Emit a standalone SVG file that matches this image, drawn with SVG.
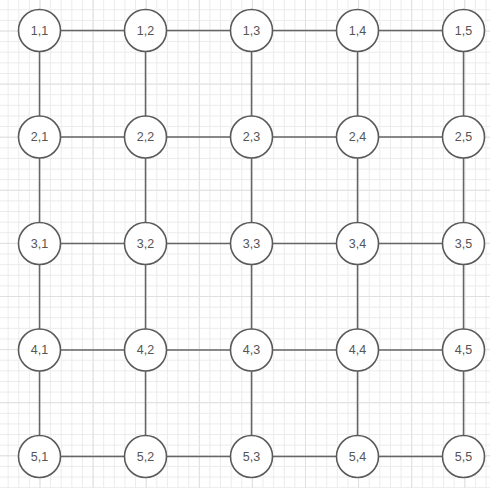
<svg xmlns="http://www.w3.org/2000/svg" width="490" height="488" viewBox="0 0 490 488">
<style>
.node circle{fill:#fff;stroke:#5a5a5a;stroke-width:1.6}
.node text{font-family:"Liberation Sans",Arial,sans-serif;font-size:12.5px;fill:#555;text-anchor:middle;dominant-baseline:central}
#edges line{stroke:#666;stroke-width:1.5}
</style>
<defs>
<pattern id="minor" patternUnits="userSpaceOnUse" x="39.5" y="30.5" width="10.62" height="10.62">
<path d="M0.5 0V10.62M0 0.5H10.62" stroke="#ebebeb" stroke-width="1" fill="none"/>
</pattern>
<pattern id="major" patternUnits="userSpaceOnUse" x="39.5" y="30.5" width="53.1" height="53.1">
<path d="M0.5 0V53.1M0 0.5H53.1" stroke="#e0e0e0" stroke-width="1" fill="none"/>
</pattern>
</defs>
<rect width="490" height="488" fill="#fff"/>
<rect width="490" height="488" fill="url(#minor)"/>
<rect width="490" height="488" fill="url(#major)"/>
<g id="edges">
<line x1="39.5" y1="30.5" x2="463.5" y2="30.5"/>
<line x1="39.5" y1="137" x2="463.5" y2="137"/>
<line x1="39.5" y1="243.5" x2="463.5" y2="243.5"/>
<line x1="39.5" y1="350" x2="463.5" y2="350"/>
<line x1="39.5" y1="456.5" x2="463.5" y2="456.5"/>
<line x1="39.5" y1="30.5" x2="39.5" y2="456.5"/>
<line x1="145.5" y1="30.5" x2="145.5" y2="456.5"/>
<line x1="251.5" y1="30.5" x2="251.5" y2="456.5"/>
<line x1="357.5" y1="30.5" x2="357.5" y2="456.5"/>
<line x1="463.5" y1="30.5" x2="463.5" y2="456.5"/>
</g>
<g id="n11" class="node"><circle cx="39.5" cy="30.5" r="21"/><text x="39.5" y="30.5">1,1</text></g>
<g id="n12" class="node"><circle cx="145.5" cy="30.5" r="21"/><text x="145.5" y="30.5">1,2</text></g>
<g id="n13" class="node"><circle cx="251.5" cy="30.5" r="21"/><text x="251.5" y="30.5">1,3</text></g>
<g id="n14" class="node"><circle cx="357.5" cy="30.5" r="21"/><text x="357.5" y="30.5">1,4</text></g>
<g id="n15" class="node"><circle cx="463.5" cy="30.5" r="21"/><text x="463.5" y="30.5">1,5</text></g>
<g id="n21" class="node"><circle cx="39.5" cy="137" r="21"/><text x="39.5" y="137">2,1</text></g>
<g id="n22" class="node"><circle cx="145.5" cy="137" r="21"/><text x="145.5" y="137">2,2</text></g>
<g id="n23" class="node"><circle cx="251.5" cy="137" r="21"/><text x="251.5" y="137">2,3</text></g>
<g id="n24" class="node"><circle cx="357.5" cy="137" r="21"/><text x="357.5" y="137">2,4</text></g>
<g id="n25" class="node"><circle cx="463.5" cy="137" r="21"/><text x="463.5" y="137">2,5</text></g>
<g id="n31" class="node"><circle cx="39.5" cy="243.5" r="21"/><text x="39.5" y="243.5">3,1</text></g>
<g id="n32" class="node"><circle cx="145.5" cy="243.5" r="21"/><text x="145.5" y="243.5">3,2</text></g>
<g id="n33" class="node"><circle cx="251.5" cy="243.5" r="21"/><text x="251.5" y="243.5">3,3</text></g>
<g id="n34" class="node"><circle cx="357.5" cy="243.5" r="21"/><text x="357.5" y="243.5">3,4</text></g>
<g id="n35" class="node"><circle cx="463.5" cy="243.5" r="21"/><text x="463.5" y="243.5">3,5</text></g>
<g id="n41" class="node"><circle cx="39.5" cy="350" r="21"/><text x="39.5" y="350">4,1</text></g>
<g id="n42" class="node"><circle cx="145.5" cy="350" r="21"/><text x="145.5" y="350">4,2</text></g>
<g id="n43" class="node"><circle cx="251.5" cy="350" r="21"/><text x="251.5" y="350">4,3</text></g>
<g id="n44" class="node"><circle cx="357.5" cy="350" r="21"/><text x="357.5" y="350">4,4</text></g>
<g id="n45" class="node"><circle cx="463.5" cy="350" r="21"/><text x="463.5" y="350">4,5</text></g>
<g id="n51" class="node"><circle cx="39.5" cy="456.5" r="21"/><text x="39.5" y="456.5">5,1</text></g>
<g id="n52" class="node"><circle cx="145.5" cy="456.5" r="21"/><text x="145.5" y="456.5">5,2</text></g>
<g id="n53" class="node"><circle cx="251.5" cy="456.5" r="21"/><text x="251.5" y="456.5">5,3</text></g>
<g id="n54" class="node"><circle cx="357.5" cy="456.5" r="21"/><text x="357.5" y="456.5">5,4</text></g>
<g id="n55" class="node"><circle cx="463.5" cy="456.5" r="21"/><text x="463.5" y="456.5">5,5</text></g>
</svg>
